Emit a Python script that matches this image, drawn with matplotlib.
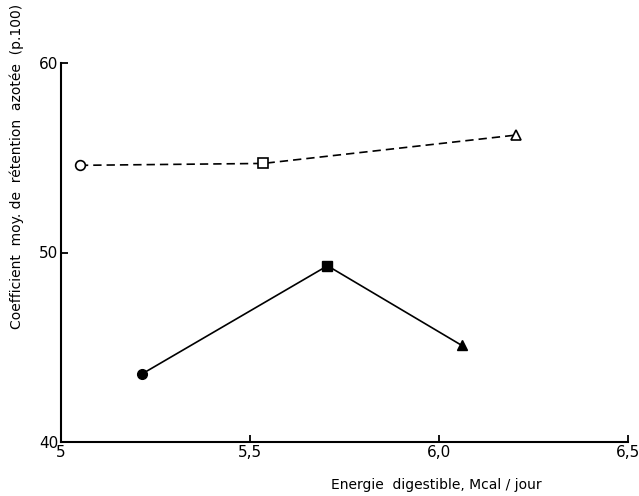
import matplotlib
matplotlib.use("Agg")
import matplotlib.pyplot as plt

# energie digestible (Mcal/jour) et coefficient de retention azotee (p.100)
x_open = [5.05, 5.535, 6.205]
y_open = [54.6, 54.7, 56.2]
x_filled = [5.215, 5.705, 6.06]
y_filled = [43.6, 49.3, 45.1]

xticks = [5.0, 5.5, 6.0, 6.5]
xtick_labels = ["5", "5,5", "6,0", "6,5"]
yticks = [40, 50, 60]

fig = plt.figure(figsize=(6.39, 4.96), dpi=100)
ax = fig.add_axes([61 / 639, 54 / 496, 567 / 639, 379 / 496])

# serie en pointilles, symboles ouverts
ax.plot(x_open, y_open, color="black", lw=1.2, ls=(0, (5, 3)), zorder=2)
for xi, yi, m in zip(x_open, y_open, ["o", "s", "^"]):
    ax.plot(xi, yi, marker=m, ms=7 if m == "o" else 6.5, mfc="white",
            mec="black", mew=1.2, ls="none", zorder=3)

# serie en trait plein, symboles pleins
ax.plot(x_filled, y_filled, color="black", lw=1.2, zorder=2)
for xi, yi, m in zip(x_filled, y_filled, ["o", "s", "^"]):
    ax.plot(xi, yi, marker=m, ms=7 if m == "o" else 6.5, mfc="black",
            mec="black", ls="none", zorder=3)

ax.set_xlim(5.0, 6.5)
ax.set_ylim(40, 60)
ax.set_xticks(xticks)
ax.set_xticklabels(xtick_labels)
ax.set_yticks(yticks)
ax.tick_params(direction="in", length=5, width=1.3, labelsize=11)
ax.tick_params(axis="x", pad=2)
ax.tick_params(axis="y", pad=2)

for s in ["top", "right"]:
    ax.spines[s].set_visible(False)
for s in ["left", "bottom"]:
    ax.spines[s].set_linewidth(1.5)

fig.text(436 / 639, 1 - 485 / 496, "Energie  digestible, Mcal / jour",
         ha="center", va="center", fontsize=10)
fig.text(17 / 639, 1 - 166 / 496, "Coefficient  moy. de  rétention  azotée  (p.100)",
         ha="center", va="center", rotation=90, fontsize=10)

fig.savefig("out.png", dpi=100)
